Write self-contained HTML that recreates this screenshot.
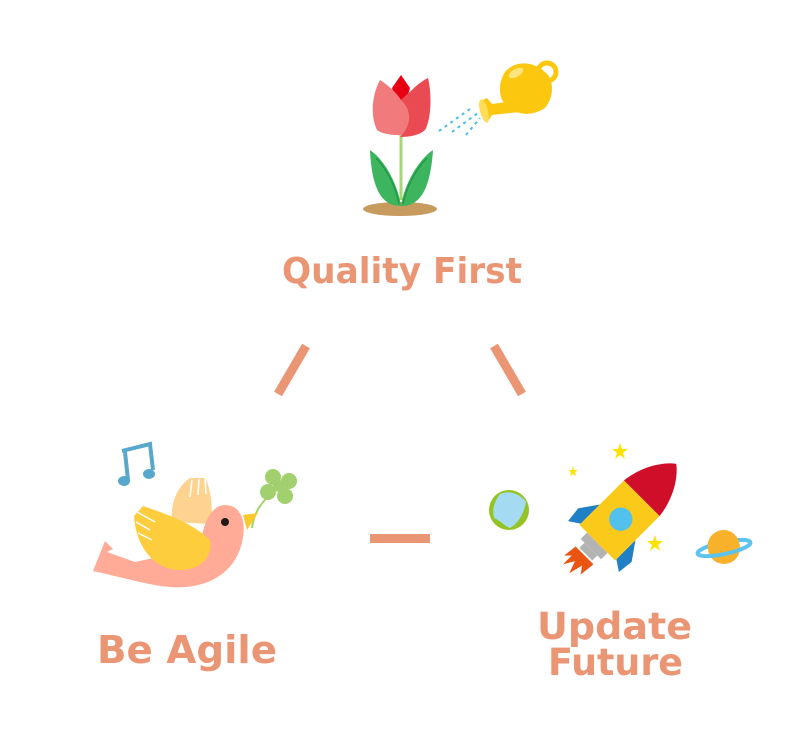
<!DOCTYPE html>
<html><head><meta charset="utf-8"><style>
html,body{margin:0;padding:0;background:#fff;width:800px;height:741px;overflow:hidden}
svg{display:block}
text{font-family:"DejaVu Sans","Liberation Sans",sans-serif;font-weight:bold;fill:#ea9573}
</style></head><body>
<svg width="800" height="741" viewBox="0 0 800 741">
<line x1="306" y1="346" x2="278" y2="394" stroke="#ea9573" stroke-width="9"/>
<line x1="494" y1="346" x2="522" y2="394" stroke="#ea9573" stroke-width="9"/>
<rect x="370" y="534" width="60" height="9" fill="#ea9573"/>

<ellipse cx="400" cy="209" rx="37" ry="7" fill="#c79a5e"/>
<line x1="401" y1="130" x2="401" y2="200" stroke="#a8d67a" stroke-width="3"/>
<path d="M370,150 C385,160 398,185 401,206 C385,206 372,195 370,150 Z" fill="#3cb55e"/>
<path d="M433,150 C418,160 404,185 401,206 C417,206 430,195 433,150 Z" fill="#3cb55e"/>
<path d="M376,158 C388,170 396,188 399,204" stroke="#1f9a45" stroke-width="1.5" fill="none"/>
<path d="M427,158 C415,170 406,188 403,204" stroke="#1f9a45" stroke-width="1.5" fill="none"/>
<path d="M392,88 L401,75 L410,88 L405,105 L397,105 Z" fill="#e60012"/>
<path d="M380,80 C392,88 398,95 401,100 L412,90 C418,84 424,80 428,78 C432,95 431,120 425,130 C418,137 385,137 377,130 C370,115 372,95 380,80 Z" fill="#f07a7c"/>
<path d="M401,100 L412,90 C418,84 424,80 428,78 C432,95 431,120 425,130 C420,135 410,137 400,137 C412,125 412,110 401,100 Z" fill="#ea4a52"/>

<g stroke="#4bbde8" stroke-width="2" stroke-dasharray="3 4" fill="none">
<line x1="439" y1="131" x2="470" y2="109"/>
<line x1="452" y1="132" x2="478" y2="113"/>
<line x1="466" y1="135" x2="480" y2="118"/>
</g>
<path d="M481,101 L487,98 L492,104 L520,100 L520,112 L492,115 L487,123 Z" fill="#fbc70f"/>
<ellipse cx="484" cy="111" rx="4" ry="12" fill="#fddc5a" transform="rotate(-15 484 111)"/>
<circle cx="547" cy="72" r="9" fill="none" stroke="#fbc70f" stroke-width="5"/>
<path d="M505,72 C515,60 535,60 548,75 C555,85 552,100 545,108 C530,118 512,115 502,100 C498,90 500,80 505,72 Z" fill="#fbc70f"/>
<ellipse cx="516" cy="73" rx="8" ry="4" fill="#fde47d" transform="rotate(-30 516 73)"/>

<text x="282" y="283" font-size="36" textLength="240" lengthAdjust="spacingAndGlyphs">Quality First</text>

<path d="M122,451 L150,444 L153,470" stroke="#57a8cc" stroke-width="4" fill="none"/>
<line x1="125" y1="452" x2="128" y2="480" stroke="#57a8cc" stroke-width="4"/>
<ellipse cx="124" cy="481" rx="6" ry="5" fill="#57a8cc"/>
<ellipse cx="149" cy="474" rx="6" ry="5" fill="#57a8cc"/>

<path d="M252,528 C254,512 262,500 278,488" stroke="#a4d26c" stroke-width="2" fill="none"/>
<g fill="#a2d06e">
<circle cx="273" cy="477" r="8"/><circle cx="289" cy="481" r="8"/><circle cx="285" cy="496" r="8"/><circle cx="268" cy="492" r="8"/>
</g>
<circle cx="279" cy="486" r="6" fill="#a2d06e"/>

<path d="M172,522 C170,502 178,486 190,478 L205,478 C211,490 213,505 211,524 Z" fill="#fdd38f"/>
<g stroke="#fff" stroke-width="1.5"><line x1="192" y1="480" x2="190" y2="497"/><line x1="199" y1="479" x2="198" y2="495"/><line x1="205" y1="479" x2="206" y2="494"/></g>
<path d="M93,571 L105,541 L113,549 L107,552 L135,562 L200,548 C203,520 213,505 225,505 C240,505 246,520 243,537 C238,572 208,590 170,587 C148,585 125,578 93,571 Z" fill="#ffab97"/>
<path d="M243,515 L258,513 L247,530 Z" fill="#fdc92c"/>
<circle cx="225" cy="522" r="4" fill="#231815"/>
<path d="M134,516 L143,506 C170,515 195,525 210,540 C213,555 203,570 180,570 C155,570 136,548 134,516 Z" fill="#fecd3d"/>
<g stroke="#fff" stroke-width="1.5"><line x1="137" y1="512" x2="155" y2="522"/><line x1="136" y1="522" x2="150" y2="530"/><line x1="138" y1="533" x2="152" y2="540"/></g>

<text x="97" y="663" font-size="38" textLength="180" lengthAdjust="spacingAndGlyphs">Be Agile</text>

<circle cx="509" cy="510" r="20" fill="#93c424"/>
<path d="M500,494 C510,490 520,494 526,502 C524,512 520,522 510,528 C504,526 500,520 494,518 C492,510 494,502 500,494 Z" fill="#a5dbf2"/>

<g fill="#ffe100">
<polygon points="620,443 622,449 628,449 623,453 625,459 620,455 615,459 617,453 612,449 618,449"/>
<polygon points="573,466 574,470 578,470 575,472 576,476 573,474 570,476 571,472 568,470 572,470"/>
<polygon points="655,535 657,541 663,541 658,545 660,551 655,547 650,551 652,545 647,541 653,541"/>
</g>

<g transform="translate(624,516) rotate(45) scale(0.9)">
<path d="M-28,10 L-42,30 L-40,48 L-28,40 Z" fill="#1f80c5"/>
<path d="M28,10 L42,30 L40,48 L28,40 Z" fill="#1f80c5"/>
<rect x="-16" y="42" width="32" height="10" fill="#b3b3b3"/>
<rect x="-10" y="52" width="20" height="8" fill="#b3b3b3"/>
<path d="M-14,62 L14,62 L12,80 L6,72 L2,88 L-3,74 L-10,86 L-10,72 L-16,78 Z" fill="#ea5514"/>
<rect x="-28" y="-28" width="56" height="70" fill="#fbc919"/>
<path d="M-28,-28 C-25,-55 -10,-75 0,-82 C10,-75 25,-55 28,-28 Z" fill="#cf0f2a"/>
<circle cx="0" cy="5" r="13" fill="#52c1ee"/>
</g>

<circle cx="724" cy="548" r="16" fill="#f7b12a"/>
<ellipse cx="724" cy="548" rx="27" ry="6" fill="none" stroke="#5bc3ee" stroke-width="4" transform="rotate(-12 724 548)"/>
<path d="M708,546 A16,16 0 0 1 740,546" fill="#f7b12a" transform="rotate(-12 724 548)"/>

<text x="537" y="639" font-size="37" textLength="155" lengthAdjust="spacingAndGlyphs">Update</text>
<text x="548" y="675" font-size="37" textLength="135" lengthAdjust="spacingAndGlyphs">Future</text>
</svg>
</body></html>
